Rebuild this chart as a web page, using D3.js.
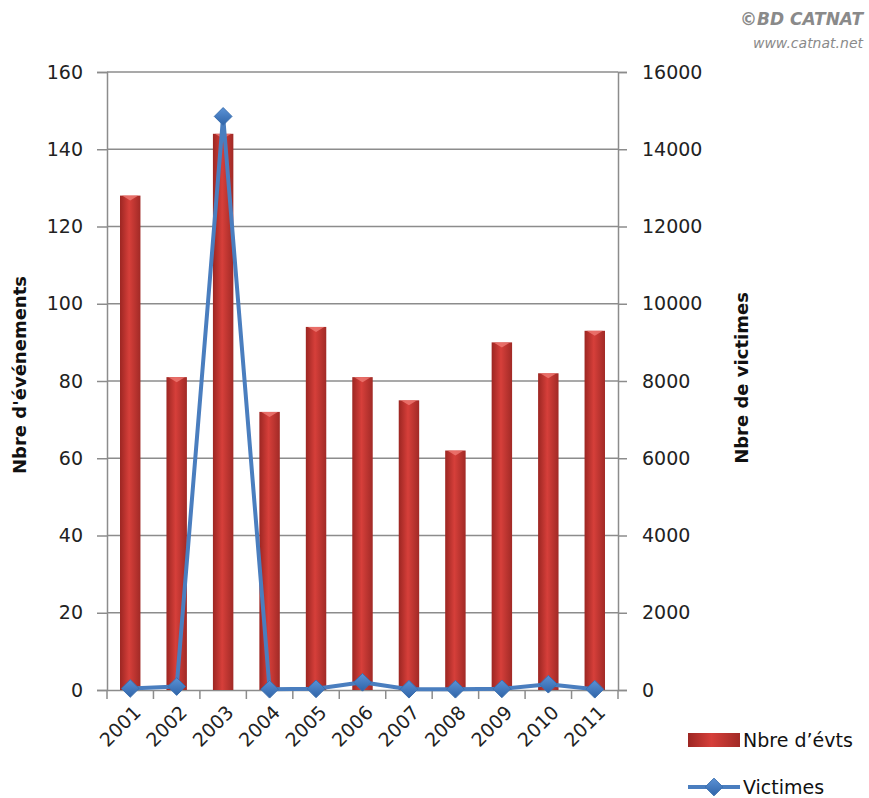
<!DOCTYPE html>
<html>
<head>
<meta charset="utf-8">
<script src="https://cdn.jsdelivr.net/npm/d3@7"></script>
<style>
  body { margin: 0; background: #fff; }
  text { font-family: "DejaVu Sans", Verdana, sans-serif; }
</style>
</head>
<body>
<div id="chart"></div>
<script>
// data
var years = ["2001", "2002", "2003", "2004", "2005", "2006", "2007", "2008", "2009", "2010", "2011"];
var evenements = [128, 81, 144, 72, 94, 81, 75, 62, 90, 82, 93];
var victimes = [40, 90, 14850, 20, 30, 200, 20, 20, 30, 150, 20];
var leftTicks = [0, 20, 40, 60, 80, 100, 120, 140, 160];
var rightTicks = [0, 2000, 4000, 6000, 8000, 10000, 12000, 14000, 16000];

var svgWidth = 869;
var svgHeight = 798;

var margin = { top: 72, right: 251, bottom: 108, left: 107 };
var width = svgWidth - margin.left - margin.right;
var height = svgHeight - margin.top - margin.bottom;

var svg = d3.select("#chart")
    .append("svg")
    .attr("width", svgWidth)
    .attr("height", svgHeight);

// gradients for bars / diamonds
var defs = svg.append("defs");
var barGrad = defs.append("linearGradient").attr("id", "barGrad")
    .attr("x1", "0%").attr("x2", "100%").attr("y1", "0%").attr("y2", "0%");
barGrad.append("stop").attr("offset", "0%").attr("stop-color", "#9c2622");
barGrad.append("stop").attr("offset", "45%").attr("stop-color", "#d63f3a");
barGrad.append("stop").attr("offset", "100%").attr("stop-color", "#a12a26");

var dotGrad = defs.append("linearGradient").attr("id", "dotGrad")
    .attr("x1", "0%").attr("x2", "0%").attr("y1", "0%").attr("y2", "100%");
dotGrad.append("stop").attr("offset", "0%").attr("stop-color", "#5b92d6");
dotGrad.append("stop").attr("offset", "100%").attr("stop-color", "#2f64a8");

var chartGroup = svg.append("g")
    .attr("transform", `translate(${margin.left}, ${margin.top})`);

// scales
var xScale = d3.scaleBand()
    .domain(years)
    .range([0, width])
    .padding(0);

var yLeft = d3.scaleLinear()
    .domain([0, 160])
    .range([height, 0]);

var yRight = d3.scaleLinear()
    .domain([0, 16000])
    .range([height, 0]);

// gridlines
chartGroup.append("g")
    .selectAll("line")
    .data(leftTicks.slice(1))
    .enter()
    .append("line")
    .attr("x1", 0)
    .attr("x2", width)
    .attr("y1", d => yLeft(d))
    .attr("y2", d => yLeft(d))
    .attr("stroke", "#8c8c8c")
    .attr("stroke-width", 1.5);

// axes
var leftAxis = d3.axisLeft(yLeft).tickValues(leftTicks).tickSize(10).tickPadding(14);
var rightAxis = d3.axisRight(yRight).tickValues(rightTicks).tickSize(9).tickPadding(15)
    .tickFormat(d3.format("d"));
var bottomAxis = d3.axisBottom(xScale).tickSize(0).tickFormat("");

function styleAxis(g) {
    g.select(".domain").attr("stroke", "#8c8c8c").attr("stroke-width", 1.5);
    g.selectAll(".tick line").attr("stroke", "#8c8c8c").attr("stroke-width", 1.5);
    g.selectAll(".tick text")
        .attr("fill", "#222")
        .style("font-size", "19px")
        .style("font-family", "DejaVu Sans, Verdana, sans-serif");
}

chartGroup.append("g")
    .call(leftAxis)
    .call(styleAxis);

chartGroup.append("g")
    .attr("transform", `translate(${width}, 0)`)
    .call(rightAxis)
    .call(styleAxis);

var xAxis = chartGroup.append("g")
    .attr("transform", `translate(0, ${height})`)
    .call(bottomAxis)
    .call(styleAxis);

// category separator ticks
xAxis.selectAll("line.sep")
    .data(d3.range(years.length + 1))
    .enter()
    .append("line")
    .attr("class", "sep")
    .attr("x1", i => i * xScale.step())
    .attr("x2", i => i * xScale.step())
    .attr("y1", 0)
    .attr("y2", 9)
    .attr("stroke", "#8c8c8c")
    .attr("stroke-width", 1.5);

// year labels
chartGroup.append("g")
    .selectAll("text")
    .data(years)
    .enter()
    .append("text")
    .attr("transform", d => `translate(${xScale(d) + xScale.bandwidth() / 2 + 7}, ${height + 19}) rotate(-45)`)
    .attr("text-anchor", "end")
    .attr("dy", "0.35em")
    .attr("fill", "#222")
    .style("font-size", "19px")
    .text(d => d);

// bars
var barW = xScale.bandwidth() * 0.44;
var bars = chartGroup.append("g")
    .selectAll("g")
    .data(evenements)
    .enter()
    .append("g");

bars.append("rect")
    .attr("x", (d, i) => xScale(years[i]) + (xScale.bandwidth() - barW) / 2)
    .attr("y", d => yLeft(d))
    .attr("width", barW)
    .attr("height", d => height - yLeft(d))
    .attr("fill", "url(#barGrad)");

// light cap at bar top
bars.append("path")
    .attr("d", (d, i) => {
        var x0 = xScale(years[i]) + (xScale.bandwidth() - barW) / 2;
        var y0 = yLeft(d);
        return `M${x0 + 2},${y0} L${x0 + barW - 2},${y0} L${x0 + barW / 2},${y0 + 5} Z`;
    })
    .attr("fill", "#ef7a74")
    .attr("opacity", 0.8);

// victims line
var line = d3.line()
    .x((d, i) => xScale(years[i]) + xScale.bandwidth() / 2)
    .y(d => yRight(d));

chartGroup.append("path")
    .datum(victimes)
    .attr("d", line)
    .attr("fill", "none")
    .attr("stroke", "#4a7ebf")
    .attr("stroke-width", 4)
    .attr("stroke-linejoin", "round");

var diamond = d3.symbol().type(d3.symbolDiamond2).size(200);

chartGroup.append("g")
    .selectAll("path")
    .data(victimes)
    .enter()
    .append("path")
    .attr("d", diamond)
    .attr("transform", (d, i) => `translate(${xScale(years[i]) + xScale.bandwidth() / 2}, ${yRight(d)})`)
    .attr("fill", "url(#dotGrad)")
    .attr("stroke", "#3a6fb0")
    .attr("stroke-width", 1);

// axis titles
svg.append("text")
    .attr("transform", `translate(26, 375) rotate(-90)`)
    .attr("text-anchor", "middle")
    .style("font-size", "18px")
    .style("font-weight", "bold")
    .attr("fill", "#111")
    .text("Nbre d'événements");

svg.append("text")
    .attr("transform", `translate(748, 378) rotate(-90)`)
    .attr("text-anchor", "middle")
    .style("font-size", "18px")
    .style("font-weight", "bold")
    .attr("fill", "#111")
    .text("Nbre de victimes");

// watermark
svg.append("text")
    .attr("x", 863)
    .attr("y", 25)
    .attr("text-anchor", "end")
    .style("font-size", "17px")
    .style("font-style", "italic")
    .style("font-weight", "bold")
    .attr("fill", "#8a8a8a")
    .text("©BD CATNAT");

svg.append("text")
    .attr("x", 863)
    .attr("y", 48)
    .attr("text-anchor", "end")
    .style("font-size", "14px")
    .style("font-style", "italic")
    .attr("fill", "#8a8a8a")
    .text("www.catnat.net");

// legend
var legend = svg.append("g").attr("transform", "translate(688, 740)");

legend.append("rect")
    .attr("x", 0)
    .attr("y", -7)
    .attr("width", 52)
    .attr("height", 14)
    .attr("fill", "url(#barGrad)");

legend.append("text")
    .attr("x", 55)
    .attr("y", 0)
    .attr("dy", "0.35em")
    .style("font-size", "19px")
    .attr("fill", "#111")
    .text("Nbre d’évts");

legend.append("line")
    .attr("x1", 0)
    .attr("x2", 52)
    .attr("y1", 47)
    .attr("y2", 47)
    .attr("stroke", "#4a7ebf")
    .attr("stroke-width", 4);

legend.append("path")
    .attr("d", diamond)
    .attr("transform", "translate(26, 47)")
    .attr("fill", "url(#dotGrad)")
    .attr("stroke", "#3a6fb0");

legend.append("text")
    .attr("x", 55)
    .attr("y", 47)
    .attr("dy", "0.35em")
    .style("font-size", "19px")
    .attr("fill", "#111")
    .text("Victimes");
</script>
</body>
</html>
